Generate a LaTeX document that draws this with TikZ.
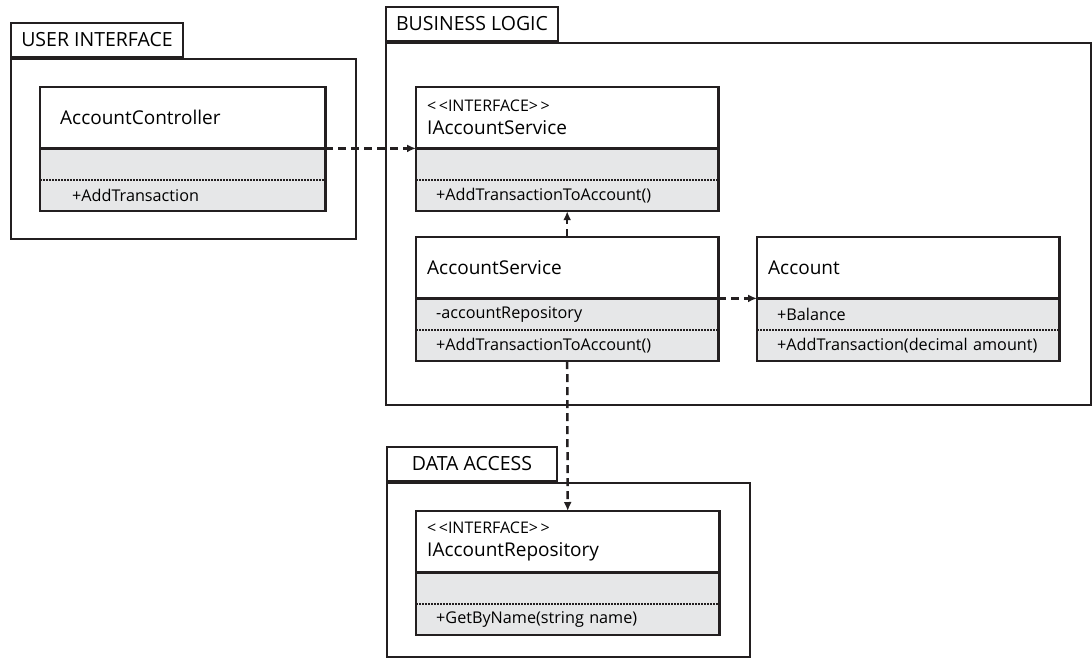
\documentclass[tikz,border=0pt]{standalone}
\usepackage{fontspec}
\setmainfont{Open Sans}
\usetikzlibrary{positioning, arrows.meta}
\definecolor{lineclr}{HTML}{231F20}
\definecolor{grayclr}{HTML}{E6E7E8}
\newcommand\TitleSize{\fontsize{19}{23}\selectfont}
\newcommand\TabSize{\fontsize{19.5}{23}\selectfont}
\newcommand\MemberSize{\fontsize{16.2}{20}\selectfont}
\newcommand\StereoSize{\fontsize{16}{18}\selectfont}
% name, x, y, width, title, attribute, method
\newcommand\umlClass[7]{
  \node[clshead, text width=#4-22pt, anchor=north west] (#1) at (#2,#3) {#5};
  \node[clsbody, text width=#4-40pt, below=0pt of #1.south west, anchor=north west] (#1-a) {\mbox{#6}};
  \node[clsbody, text width=#4-40pt, below=0pt of #1-a.south west, anchor=north west] (#1-m) {\mbox{#7}};
  \draw[clsline] (#1.north west) rectangle (#1-m.south east);
  \draw[clsline] (#1.south west) -- (#1.south east);
  \draw[sepdots] (#1-a.south west) -- (#1-a.south east);
}
\newcommand\Stereo{{\StereoSize <\kern2.5pt<INTERFACE>\kern2.5pt>}}

\begin{document}
\begin{tikzpicture}[x=1pt, y=-1pt,
    pkg/.style={draw=lineclr, line width=2pt, inner sep=0pt},
    pkgtab/.style={pkg, minimum width=172pt, minimum height=34pt, font=\TabSize},
    clshead/.style={minimum height=61pt, inner xsep=11pt, inner ysep=0pt, align=left, font=\TitleSize},
    clsbody/.style={fill=grayclr, minimum height=31pt, inner xsep=20pt, inner ysep=0pt, align=left, font=\MemberSize},
    clsline/.style={draw=lineclr, line width=2.5pt},
    sepdots/.style={draw=lineclr, line width=2pt, dash pattern=on 1.5pt off 1.5pt},
    dep/.style={draw=lineclr, line width=2.5pt, dash pattern=on 8pt off 5pt, -{Latex[length=9pt, width=8pt]}}]
  \useasboundingbox (0,0) rectangle (1092,663);

  % packages
  \node[pkg, minimum width=345pt, minimum height=180pt, anchor=north west] (ui) at (10,58) {};
  \node[pkgtab, above right=0pt of ui.north west] (ui-tab) {USER INTERFACE};
  \node[pkg, minimum width=705pt, minimum height=362pt, anchor=north west] (bl) at (385,42) {};
  \node[pkgtab, above right=0pt of bl.north west] (bl-tab) {BUSINESS LOGIC};
  \node[pkg, minimum width=363pt, minimum height=174pt, anchor=north west] (da) at (386,482) {};
  \node[pkgtab, minimum width=170pt, above right=0pt of da.north west] (da-tab) {DATA ACCESS};

  % classes
  \umlClass{ctrl}{40}{87}{285pt}{\hspace{9pt}AccountController}{}{\hspace{12pt}+AddTransaction}
  \umlClass{isvc}{416}{87}{302pt}{\Stereo\\IAccountService}{}{+AddTransactionToAccount()}
  \umlClass{svc}{416}{237}{302pt}{AccountService}{-accountRepository}{+AddTransactionToAccount()}
  \umlClass{acct}{757}{237}{302pt}{Account}{+Balance}{+AddTransaction(decimal amount)}
  \umlClass{irepo}{416}{511}{303pt}{\Stereo\\IAccountRepository}{}{+GetByName(string name)}

  % dependencies
  \draw[dep] (ctrl.south east) -- (isvc.south west);
  \draw[dep] (svc.north) -- (isvc-m.south);
  \draw[dep] (svc.south east) -- (acct.south west);
  \draw[dep] (svc-m.south) -- (irepo.north);
\end{tikzpicture}
\end{document}
